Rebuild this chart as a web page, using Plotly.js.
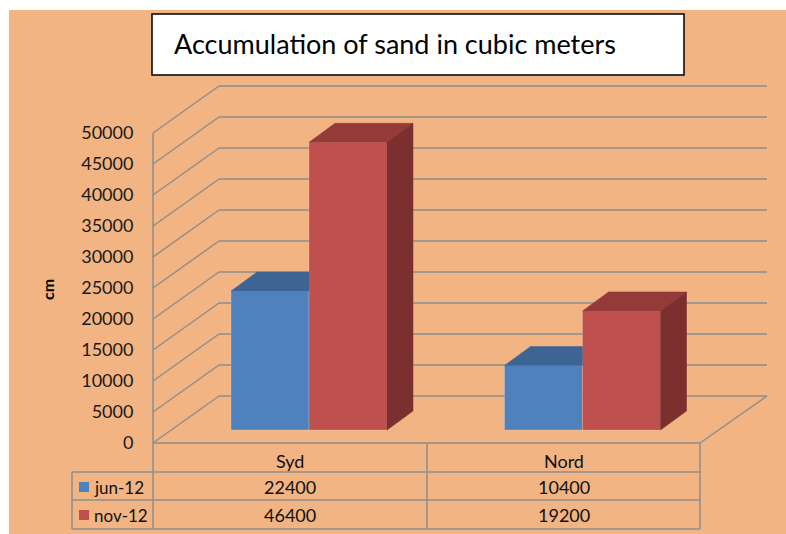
<!DOCTYPE html>
<html>
<head>
<meta charset="utf-8">
<script src="https://cdn.plot.ly/plotly-3.0.1.min.js"></script>
<style>html,body{margin:0;padding:0;background:#fff;}#chart{width:786px;height:534px;}</style>
</head>
<body>
<div id="chart"></div>
<script>
// ---- data ----
const categories = ["Syd", "Nord"];
const seriesNames = ["jun-12", "nov-12"];
const jun12 = [22400, 10400];
const nov12 = [46400, 19200];
const tickValues = [0, 5000, 10000, 15000, 20000, 25000, 30000, 35000, 40000, 45000, 50000];
const tickLabels = ["0", "5000", "10000", "15000", "20000", "25000", "30000", "35000", "40000", "45000", "50000"];

// ---- styling / geometry ----
const W = 786, H = 534;
const FONT = "Lato, 'Open Sans', sans-serif";
const BG = "#F1B482";
const GRID = "#8E8E8E";
const frontColors = ["#4F81BD", "#C0504D"];
const topColors = ["#3D6492", "#943A38"];
const sideColors = ["#3A5F8A", "#7B2F2E"];

const Y0PX = 443;                 // pixel row of value 0 on the front wall
const K = 310 / 50000;            // pixels per value unit
const V = py => (Y0PX - py) / K;  // pixel row -> value units
const px = x => x / W;            // pixel col -> paper
const py = y => 1 - y / H;        // pixel row -> paper

const WALL_X = 153, WALL_DX = 66, WALL_DY = 47, BACK_RIGHT = 767, FLOOR_RIGHT = 700;
const colCenters = [290, 563.5];
const BAR_W = 78, SHIFT_X = 19, SHIFT_Y = 13, DEPTH_X = 26, DEPTH_Y = 19;
const base = SHIFT_Y / K;
const dVal = DEPTH_Y / K;

const seriesValues = [jun12, nov12];

const shapes = [];
// orange chart area background
shapes.push({type: "rect", xref: "paper", yref: "paper", x0: px(9), x1: 1, y0: 0, y1: py(10),
  fillcolor: BG, line: {width: 0}, layer: "below"});

// walls grid
const gl = {color: GRID, width: 1.5};
tickValues.forEach(v => {
  shapes.push({type: "line", xref: "x", yref: "y", x0: WALL_X, y0: v, x1: WALL_X + WALL_DX, y1: v + WALL_DY / K, line: gl, layer: "below"});
  shapes.push({type: "line", xref: "x", yref: "y", x0: WALL_X + WALL_DX, y0: v + WALL_DY / K, x1: BACK_RIGHT, y1: v + WALL_DY / K, line: gl, layer: "below"});
});
shapes.push({type: "line", xref: "x", yref: "y", x0: WALL_X, y0: 0, x1: WALL_X, y1: tickValues[tickValues.length - 1], line: gl, layer: "below"});
// floor right edge
shapes.push({type: "line", xref: "x", yref: "y", x0: FLOOR_RIGHT, y0: 0, x1: BACK_RIGHT, y1: WALL_DY / K, line: gl, layer: "below"});

// data table lines (paper coords)
const tl = {color: GRID, width: 1.5};
function hline(y, x0, x1) { shapes.push({type: "line", xref: "paper", yref: "paper", x0: px(x0), x1: px(x1), y0: py(y), y1: py(y), line: tl}); }
function vline(x, y0, y1) { shapes.push({type: "line", xref: "paper", yref: "paper", x0: px(x), x1: px(x), y0: py(y0), y1: py(y1), line: tl}); }
hline(443, 153, 700); hline(472, 72, 700); hline(500, 72, 700); hline(529, 72, 700);
vline(72, 472, 529); vline(153, 443, 529); vline(427, 443, 529); vline(700, 443, 529);

// title box
shapes.push({type: "rect", xref: "paper", yref: "paper", x0: px(152), x1: px(684), y0: py(75), y1: py(14),
  fillcolor: "#FFFFFF", line: {color: "#000000", width: 1.5}});

// legend keys in table
const rowY = [487, 515];
seriesNames.forEach((n, i) => {
  shapes.push({type: "rect", xref: "paper", yref: "paper", x0: px(79), x1: px(89), y0: py(rowY[i] + 5), y1: py(rowY[i] - 5),
    fillcolor: frontColors[i], line: {width: 0}});
});

const annotations = [];
annotations.push({xref: "paper", yref: "paper", x: px(172), y: py(44), xanchor: "left", yanchor: "middle",
  text: "Accumulation of sand in cubic meters", showarrow: false, font: {family: FONT, size: 27, color: "#000"}});
annotations.push({xref: "paper", yref: "paper", x: px(47), y: py(290), xanchor: "center", yanchor: "middle",
  text: "<b>cm</b>", textangle: -90, showarrow: false, font: {family: FONT, size: 16, color: "#000"}});
categories.forEach((c, j) => {
  annotations.push({xref: "paper", yref: "paper", x: px(colCenters[j]), y: py(461), xanchor: "center", yanchor: "middle",
    text: c, showarrow: false, font: {family: FONT, size: 18, color: "#111"}});
});
seriesNames.forEach((n, i) => {
  annotations.push({xref: "paper", yref: "paper", x: px(92), y: py(rowY[i]), xanchor: "left", yanchor: "middle",
    text: n, showarrow: false, font: {family: FONT, size: 17, color: "#111"}});
  seriesValues[i].forEach((v, j) => {
    annotations.push({xref: "paper", yref: "paper", x: px(colCenters[j]), y: py(rowY[i]), xanchor: "center", yanchor: "middle",
      text: String(v), showarrow: false, font: {family: FONT, size: 18, color: "#111"}});
  });
});

// ---- traces ----
const traces = [];
const nS = seriesValues.length;
function barCenter(i, j) { return colCenters[j] + SHIFT_X + (i - (nS - 1) / 2) * BAR_W; }

seriesValues.forEach((vals, i) => {
  traces.push({type: "bar", name: seriesNames[i], x: vals.map((v, j) => barCenter(i, j)), y: vals, base: vals.map(() => base),
    width: BAR_W, marker: {color: frontColors[i], line: {color: "rgba(255,255,255,0.18)", width: 1}}, hoverinfo: "skip", showlegend: false});
});

// top and side faces
seriesValues.forEach((vals, i) => {
  vals.forEach((v, j) => {
    const xc = barCenter(i, j), x0 = xc - BAR_W / 2, x1 = xc + BAR_W / 2;
    const t = base + v;
    const next = i < nS - 1 ? seriesValues[i + 1][j] : null;
    let tx, ty;
    if (next !== null && next >= v) {
      tx = [x0, x1, x1, x0 + DEPTH_X, x0];
      ty = [t, t, t + dVal, t + dVal, t];
    } else {
      tx = [x0, x1, x1 + DEPTH_X, x0 + DEPTH_X, x0];
      ty = [t, t, t + dVal, t + dVal, t];
    }
    traces.push({type: "scatter", mode: "lines", x: tx, y: ty, fill: "toself", fillcolor: topColors[i],
      line: {width: 0.5, color: topColors[i]}, hoverinfo: "skip", showlegend: false});
    if (next === null || next < v) {
      traces.push({type: "scatter", mode: "lines",
        x: [x1, x1, x1 + DEPTH_X, x1 + DEPTH_X, x1], y: [base, t, t + dVal, base + dVal, base],
        fill: "toself", fillcolor: sideColors[i], line: {width: 0.5, color: sideColors[i]}, hoverinfo: "skip", showlegend: false});
    }
  });
});

const layout = {
  width: W, height: H,
  margin: {l: 0, r: 0, t: 0, b: 0, pad: 0},
  paper_bgcolor: "#FFFFFF", plot_bgcolor: "rgba(0,0,0,0)",
  showlegend: false, barmode: "overlay",
  xaxis: {range: [0, W], visible: false, fixedrange: true},
  yaxis: {range: [V(H), V(0)], anchor: "free", position: WALL_X / W, side: "left",
    showgrid: false, zeroline: false, showline: false,
    tickmode: "array", tickvals: tickValues, ticktext: tickLabels,
    ticks: "outside", ticklen: 16, tickcolor: "rgba(0,0,0,0)",
    tickfont: {family: FONT, size: 18, color: "#1a1a1a"}, fixedrange: true},
  shapes: shapes, annotations: annotations,
  font: {family: FONT}
};

Plotly.newPlot("chart", traces, layout, {displayModeBar: false, staticPlot: true});
</script>
</body>
</html>
